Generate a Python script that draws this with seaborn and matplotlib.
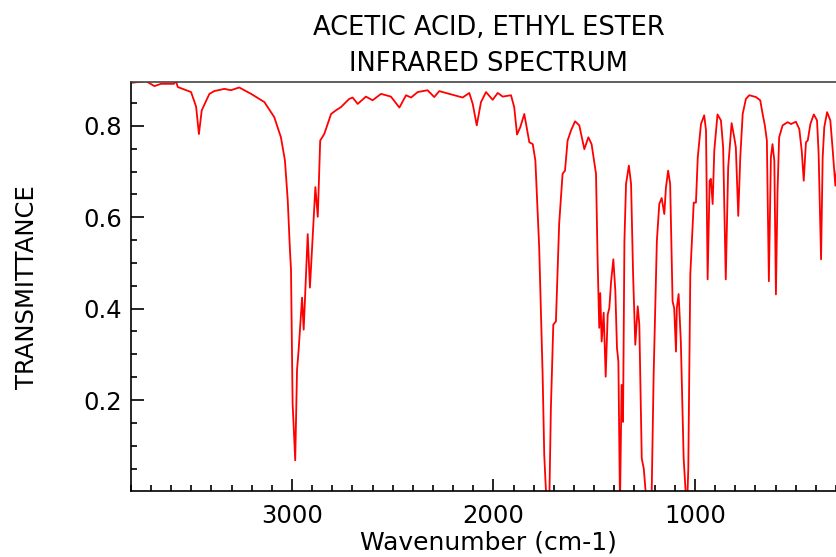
import numpy as np
import pandas as pd
import matplotlib
matplotlib.use("Agg")
import matplotlib.pyplot as plt
import seaborn as sns
from matplotlib.ticker import MultipleLocator, FixedLocator

# ---- data ----
wavenumber = [
    3800, 3725, 3683, 3650, 3586, 3576, 3567, 3501, 3476, 3462, 3448, 3410, 3386,
    3336, 3303, 3262, 3203, 3137, 3088, 3055, 3035, 3021, 3010, 3005, 2997, 2984,
    2975, 2967, 2950, 2942, 2922, 2911, 2884, 2872, 2860, 2840, 2806, 2782, 2757,
    2716, 2699, 2674, 2633, 2600, 2558, 2509, 2467, 2434, 2409, 2376, 2327, 2294,
    2269, 2211, 2153, 2120, 2103, 2083, 2062, 2037, 2004, 1979, 1954, 1913, 1897,
    1883, 1867, 1847, 1822, 1805, 1792, 1773, 1756, 1748, 1734, 1722, 1715, 1703,
    1690, 1674, 1657, 1645, 1632, 1615, 1595, 1574, 1549, 1529, 1513, 1491, 1483,
    1475, 1470, 1463, 1453, 1443, 1433, 1425, 1416, 1405, 1395, 1387, 1380, 1372,
    1364, 1357, 1350, 1342, 1328, 1317, 1307, 1296, 1284, 1276, 1264, 1254, 1243,
    1228, 1215, 1205, 1189, 1177, 1165, 1152, 1144, 1133, 1123, 1111, 1103, 1094,
    1090, 1081, 1070, 1056, 1045, 1040, 1033, 1023, 1006, 995, 986, 970, 954, 945,
    937, 927, 921, 912, 904, 888, 871, 860, 847, 835, 818, 805, 797, 785, 775, 763,
    747, 730, 697, 676, 664, 653, 643, 633, 623, 615, 606, 598, 590, 582, 565, 540,
    523, 499, 482, 470, 460, 449, 440, 427, 410, 394, 386, 374, 366, 358, 344, 328,
    316, 303, 290, 275,
]
transmittance = [
    0.894, 0.898, 0.887, 0.892, 0.892, 0.898, 0.885, 0.874, 0.842, 0.782, 0.834, 0.870, 0.876,
    0.881, 0.878, 0.884, 0.870, 0.852, 0.819, 0.775, 0.724, 0.636, 0.526, 0.486, 0.193, 0.068,
    0.266, 0.310, 0.424, 0.354, 0.563, 0.446, 0.666, 0.601, 0.768, 0.782, 0.826, 0.834, 0.841,
    0.859, 0.862, 0.848, 0.864, 0.856, 0.870, 0.864, 0.840, 0.867, 0.862, 0.874, 0.878, 0.863,
    0.876, 0.869, 0.862, 0.872, 0.848, 0.801, 0.852, 0.874, 0.857, 0.872, 0.864, 0.867, 0.841,
    0.781, 0.797, 0.826, 0.764, 0.760, 0.724, 0.533, 0.255, 0.080, -0.050, 0.000, 0.182, 0.365,
    0.372, 0.585, 0.695, 0.702, 0.768, 0.790, 0.810, 0.801, 0.749, 0.775, 0.760, 0.695, 0.504,
    0.358, 0.434, 0.328, 0.391, 0.251, 0.387, 0.401, 0.460, 0.508, 0.438, 0.314, 0.284, -0.030,
    0.233, 0.152, 0.548, 0.673, 0.713, 0.673, 0.475, 0.321, 0.405, 0.365, 0.072, 0.050, -0.010,
    -0.050, -0.010, 0.255, 0.548, 0.629, 0.642, 0.607, 0.665, 0.702, 0.673, 0.416, 0.401, 0.306,
    0.401, 0.432, 0.328, 0.072, -0.010, -0.050, 0.050, 0.475, 0.632, 0.632, 0.731, 0.804, 0.823, 0.790,
    0.464, 0.680, 0.684, 0.629, 0.746, 0.825, 0.812, 0.753, 0.464, 0.709, 0.806, 0.775, 0.753, 0.603, 0.731, 0.826,
    0.859, 0.867, 0.863, 0.856, 0.826, 0.801, 0.768, 0.460, 0.731, 0.760, 0.724, 0.431, 0.658, 0.775, 0.801, 0.808,
    0.804, 0.809, 0.793, 0.746, 0.680, 0.764, 0.768, 0.804, 0.825, 0.812, 0.738, 0.508, 0.731, 0.797, 0.830, 0.812,
    0.746, 0.669, 0.731, 0.780,
]
x_tick_values = [3000, 2000, 1000]
y_tick_values = [0.2, 0.4, 0.6, 0.8]
title_text = "ACETIC ACID, ETHYL ESTER\nINFRARED SPECTRUM"
x_label = "Wavenumber (cm-1)"
y_label = "TRANSMITTANCE"

df = pd.DataFrame({"wavenumber": wavenumber, "transmittance": transmittance})

sns.set_style("white")
plt.rcParams["font.family"] = ["DejaVu Sans"]
plt.rcParams["text.color"] = "black"
plt.rcParams["axes.labelcolor"] = "black"
plt.rcParams["xtick.color"] = "black"
plt.rcParams["ytick.color"] = "black"

fig = plt.figure(figsize=(8.37, 5.57), dpi=100)
ax = fig.add_axes([0.1563, 0.1178, 0.8545, 0.735])

sns.lineplot(data=df, x="wavenumber", y="transmittance", ax=ax,
             color="#ff0000", linewidth=1.3, estimator=None, sort=True)

ax.set_xlim(3800, 250)
ax.set_ylim(0.0, 0.896)

ax.xaxis.set_major_locator(FixedLocator(x_tick_values))
ax.xaxis.set_minor_locator(MultipleLocator(100))
ax.yaxis.set_major_locator(FixedLocator(y_tick_values))
ax.yaxis.set_minor_locator(FixedLocator([v / 100 for v in range(5, 90, 5)]))
ax.set_xticklabels([str(v) for v in x_tick_values])
ax.set_yticklabels([f"{v:.1f}" for v in y_tick_values])

ax.tick_params(axis="both", which="both", direction="in", bottom=True, left=True,
               top=False, right=False, colors="black", width=1.2)
ax.tick_params(axis="both", which="major", length=9, labelsize=17.5)
ax.tick_params(axis="both", which="minor", length=4.5)
ax.tick_params(axis="x", which="major", pad=9)
ax.tick_params(axis="y", which="major", pad=6.5)

for name, sp in ax.spines.items():
    sp.set_color("black")
    sp.set_linewidth(1.2)
ax.spines["top"].set_color("#444444")
ax.spines["right"].set_visible(False)

ax.set_xlabel(x_label, fontsize=18, labelpad=2, color="black")
ax.set_ylabel(y_label, fontsize=17.5, labelpad=32, color="black")
ax.set_title(title_text, fontsize=18.5, pad=8, linespacing=1.5, color="black")

fig.savefig("out.png", dpi=100)
